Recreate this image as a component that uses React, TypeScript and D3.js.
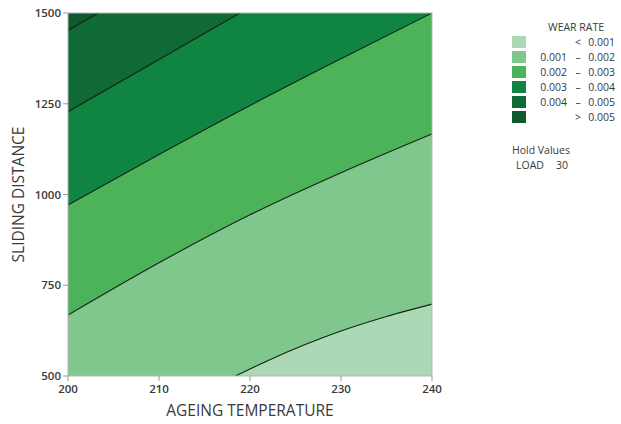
import React from 'react';
import * as d3 from 'd3';

// Contour boundaries: [ageing temperature, sliding distance]
const line0001: [number, number][] = [[218.4, 500], [222, 543], [226, 586], [230, 624], [235, 664], [240, 698]];
const line0002: [number, number][] = [[200, 668], [210, 812], [220, 944], [230, 1060], [240, 1167]];
const line0003: [number, number][] = [[200, 971], [210, 1110], [220, 1245], [230, 1374], [240, 1500]];
const line0004: [number, number][] = [[200, 1228], [218.9, 1500]];
const line0005: [number, number][] = [[200, 1452], [203.3, 1500]];

const contourLines = [line0001, line0002, line0003, line0004, line0005];

const bandLabels = [
  ['', '<', '0.001'],
  ['0.001', '–', '0.002'],
  ['0.002', '–', '0.003'],
  ['0.003', '–', '0.004'],
  ['0.004', '–', '0.005'],
  ['', '>', '0.005'],
];
const bandColors = ['#acd9b5', '#80c78d', '#4db35b', '#0f8541', '#0f6a35', '#0c5a2d'];

const xTicks = [200, 210, 220, 230, 240];
const yTicks = [500, 750, 1000, 1250, 1500];

const W = 621;
const H = 424;
const margin = { top: 13, left: 68, right: 189, bottom: 48 };

const App = () => {
  const x = d3.scaleLinear().domain([200, 240]).range([margin.left, W - margin.right]);
  const y = d3.scaleLinear().domain([500, 1500]).range([H - margin.bottom, margin.top]);

  const line = d3.line<[number, number]>()
    .x(d => x(d[0]))
    .y(d => y(d[1]))
    .curve(d3.curveMonotoneX);

  // region above a contour line: follow the line, then close round the top-left corner
  const regionAbove = (pts: [number, number][]) =>
    `${line(pts)}L${x(240)},${y(1500)}L${x(200)},${y(1500)}L${x(200)},${y(500)}Z`;

  const font = 'Open Sans, sans-serif';
  const txt = '#3a3a3a';

  return (
    <svg width={W} height={H} style={{ position: 'absolute', left: 0, top: 0 }} fontFamily={font}>
      <defs>
        <clipPath id="plot">
          <rect x={x(200)} y={y(1500)} width={x(240) - x(200)} height={y(500) - y(1500)} />
        </clipPath>
      </defs>

      <g clipPath="url(#plot)">
        <rect x={x(200)} y={y(1500)} width={x(240) - x(200)} height={y(500) - y(1500)} fill={bandColors[0]} />
        {contourLines.map((pts, i) => (
          <path key={'a' + i} d={regionAbove(pts)} fill={bandColors[i + 1]} />
        ))}
        {contourLines.map((pts, i) => (
          <path key={'l' + i} d={line(pts) || ''} fill="none" stroke="#142414" strokeWidth={1.1} />
        ))}
      </g>

      <rect x={x(200)} y={y(1500)} width={x(240) - x(200)} height={y(500) - y(1500)}
        fill="none" stroke="#b5b5b5" strokeWidth={1} />

      {/* y axis */}
      {yTicks.map(t => (
        <g key={'y' + t}>
          <line x1={x(200) - 5} x2={x(200)} y1={y(t)} y2={y(t)} stroke="#999" />
          <text x={x(200) - 7} y={y(t)} dy="0.35em" textAnchor="end" fontSize={11.5}
            fontWeight={600} fill={txt}>{t}</text>
        </g>
      ))}
      {/* x axis */}
      {xTicks.map(t => (
        <g key={'x' + t}>
          <line x1={x(t)} x2={x(t)} y1={y(500)} y2={y(500) + 5} stroke="#999" />
          <text x={x(t)} y={y(500) + 17} textAnchor="middle" fontSize={11.5}
            fontWeight={600} fill={txt}>{t}</text>
        </g>
      ))}

      <text x={(x(200) + x(240)) / 2} y={416} textAnchor="middle" fontSize={15.5} fill={txt}>
        AGEING TEMPERATURE
      </text>
      <text transform={`translate(24,${(y(500) + y(1500)) / 2}) rotate(-90)`} textAnchor="middle"
        fontSize={15.5} fill={txt}>
        SLIDING DISTANCE
      </text>

      {/* legend */}
      <text x={576} y={31} textAnchor="middle" fontSize={10.5} fill={txt}>WEAR RATE</text>
      {bandLabels.map((b, i) => {
        const cy = 42 + i * 15;
        return (
          <g key={'lg' + i} fontSize={10.5} fill={txt}>
            <rect x={512} y={cy - 6} width={14} height={12} fill={bandColors[i]} />
            <text x={567} y={cy} dy="0.35em" textAnchor="end">{b[0]}</text>
            <text x={578} y={cy} dy="0.35em" textAnchor="middle">{b[1]}</text>
            <text x={615} y={cy} dy="0.35em" textAnchor="end">{b[2]}</text>
          </g>
        );
      })}
      <text x={512} y={154} fontSize={10.5} fill={txt}>Hold Values</text>
      <text x={516} y={169} fontSize={10.5} fill={txt}>LOAD</text>
      <text x={568} y={169} fontSize={10.5} fill={txt} textAnchor="end">30</text>
    </svg>
  );
};

export default App;
